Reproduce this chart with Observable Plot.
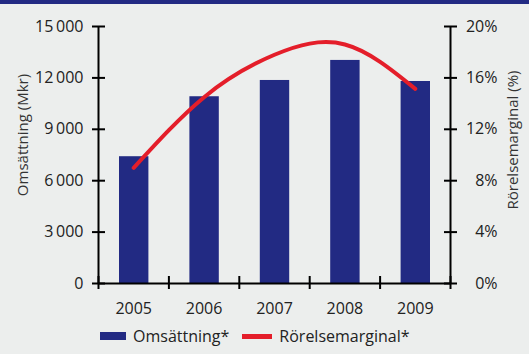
<!DOCTYPE html>
<html>
<head>
<meta charset="utf-8">
<script src="https://cdn.jsdelivr.net/npm/d3@7"></script>
<script src="https://cdn.jsdelivr.net/npm/@observablehq/plot@0.6"></script>
<style>
  html, body { margin: 0; padding: 0; background: #ECEEED; }
  body { width: 529px; height: 354px; position: relative; overflow: hidden; font-family: "Open Sans", sans-serif; }
  #band { position: absolute; left: 0; top: 0; width: 529px; height: 4px; background: #222A83; }
  #legend { position: absolute; left: 0; top: 322px; height: 28px; width: 529px; display: flex; align-items: center; font-size: 16px; color: #222; padding-left: 100px; box-sizing: border-box; }
  .sw { display: inline-block; margin-right: 7px; }
  .item { display: flex; align-items: center; margin-right: 13px; }
</style>
</head>
<body>
<div id="chart"></div>
<div id="band"></div>
<div id="legend"></div>
<script>
const years = [2005, 2006, 2007, 2008, 2009];
const omsattning = [7400, 10900, 11850, 13020, 11790];
const rorelsemarginal = [9.0, 14.5, 17.8, 18.6, 15.15];
const leftTicks = [0, 3000, 6000, 9000, 12000, 15000];
const rightTicks = [0, 4, 8, 12, 16, 20];
const boundaries = [2004.5, 2005.5, 2006.5, 2007.5, 2008.5, 2009.5];
const seriesNames = ["Omsättning*", "Rörelsemarginal*"];
const leftTitle = "Omsättning (Mkr)";
const rightTitle = "Rörelsemarginal (%)";

const navy = "#222A83";
const red = "#E41E2A";
const ink = "#222";
const ratio = 15000 / 20;

const data = years.map((y, i) => ({year: y, oms: omsattning[i], marg: rorelsemarginal[i]}));
const fmt = d => String(d).replace(/\B(?=(\d{3})+(?!\d))/g, "\u2009");

const chart = Plot.plot({
  width: 529,
  height: 322,
  marginLeft: 98,
  marginRight: 79,
  marginTop: 26,
  marginBottom: 39,
  style: {background: "transparent", fontFamily: "Open Sans, sans-serif", fontSize: "16px", color: ink},
  x: {type: "linear", domain: [boundaries[0], boundaries[boundaries.length - 1]], axis: null},
  y: {domain: [0, 15000], axis: null},
  marks: [
    Plot.rectY(data, {x1: d => d.year - 0.5, x2: d => d.year + 0.5, y: "oms", fill: navy, insetLeft: 21, insetRight: 20}),
    Plot.ruleX([boundaries[0], boundaries[boundaries.length - 1]], {y1: 0, y2: 15000, stroke: "#000", strokeWidth: 2}),
    Plot.ruleY([0], {stroke: "#000", strokeWidth: 2}),
    // left axis ticks (crossing) and labels
    Plot.axisY({ticks: leftTicks, label: null, tickSize: 13, dx: 7, strokeWidth: 2, stroke: "#000", tickFormat: () => ""}),
    Plot.axisY({ticks: leftTicks, label: null, tickSize: 0, tickPadding: 15, tickFormat: fmt, fill: ink, fontSize: 16}),
    // right axis
    Plot.axisY({anchor: "right", label: null, ticks: rightTicks.map(p => p * ratio), tickSize: 13, dx: -7, strokeWidth: 2, stroke: "#000", tickFormat: () => ""}),
    Plot.axisY({anchor: "right", label: null, ticks: rightTicks.map(p => p * ratio), tickSize: 0, tickPadding: 47, textAnchor: "end", tickFormat: d => Math.round(d / ratio) + "%", fill: ink, fontSize: 16}),
    // x axis
    Plot.axisX({ticks: boundaries, label: null, tickSize: 13, dy: -7, strokeWidth: 2, stroke: "#000", tickFormat: () => ""}),
    Plot.axisX({ticks: years, label: null, tickSize: 0, tickPadding: 19, tickFormat: d => String(d), fill: ink, fontSize: 16}),
    // line
    Plot.line(data, {x: "year", y: d => d.marg * ratio, stroke: red, strokeWidth: 4, curve: "natural"}),
    // axis titles
    Plot.text([leftTitle], {frameAnchor: "left", textAnchor: "middle", text: d => d, rotate: -90, dx: -75, dy: -20, fill: "#333", fontSize: 15}),
    Plot.text([rightTitle], {frameAnchor: "right", textAnchor: "middle", text: d => d, rotate: -90, dx: 63, dy: -15, fill: "#333", fontSize: 15})
  ]
});
document.getElementById("chart").appendChild(chart);

const legend = document.getElementById("legend");
const swatches = [
  {name: seriesNames[0], color: navy, w: 26, h: 8},
  {name: seriesNames[1], color: red, w: 30, h: 5}
];
for (const s of swatches) {
  const item = document.createElement("div");
  item.className = "item";
  const sw = document.createElement("span");
  sw.className = "sw";
  sw.style.width = s.w + "px";
  sw.style.height = s.h + "px";
  sw.style.background = s.color;
  item.appendChild(sw);
  const t = document.createElement("span");
  t.textContent = s.name;
  item.appendChild(t);
  legend.appendChild(item);
}
</script>
</body>
</html>
